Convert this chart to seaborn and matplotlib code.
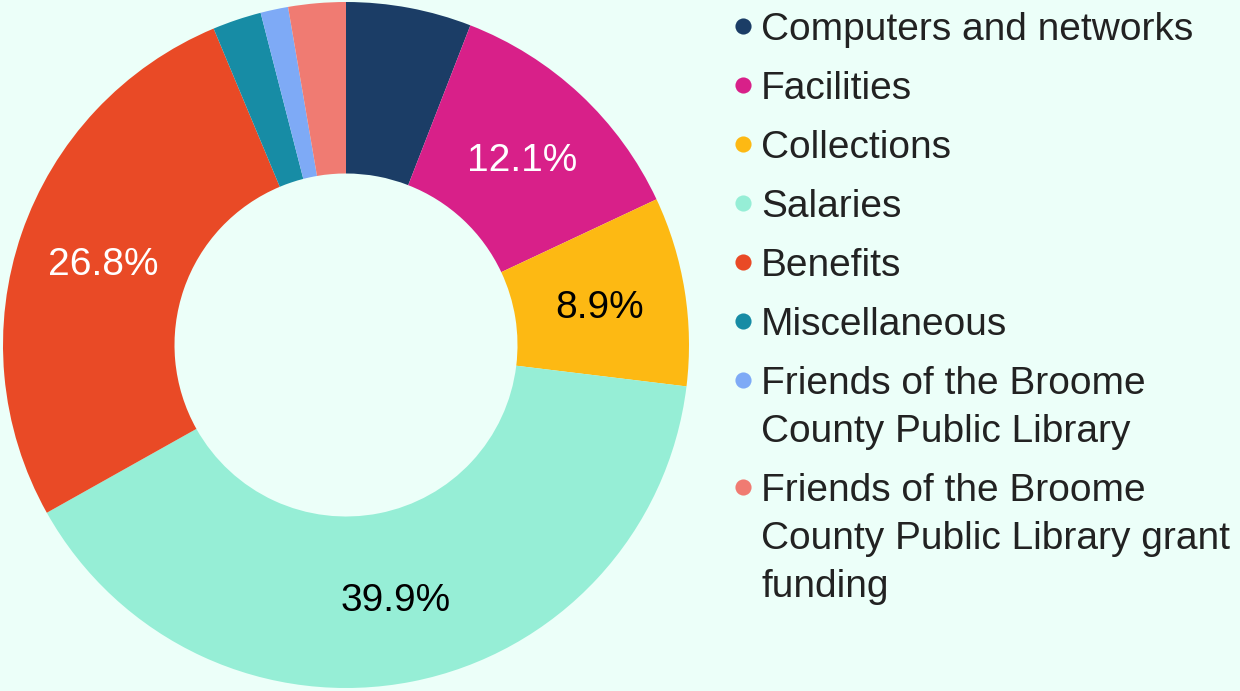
import matplotlib
matplotlib.use("Agg")
import matplotlib.pyplot as plt
import seaborn as sns

categories = [
    "Computers and networks",
    "Facilities",
    "Collections",
    "Salaries",
    "Benefits",
    "Miscellaneous",
    "Friends of the Broome\nCounty Public Library",
    "Friends of the Broome\nCounty Public Library grant\nfunding",
]
shares = [5.9, 12.1, 8.9, 39.9, 26.8, 2.3, 1.3, 2.7]
colors = ["#1b3d66", "#d82089", "#fdb913", "#96eed6",
          "#e94a26", "#178ca5", "#7eaaf6", "#f07b72"]
# only the bigger slices carry a label
shown = {"Facilities": "white", "Collections": "black",
         "Salaries": "black", "Benefits": "white"}

bg = "#ecfff9"
txt = "#222222"
sns.set_theme(style="white")
plt.rcParams["font.family"] = ["Liberation Sans", "DejaVu Sans"]

palette = sns.color_palette(colors)

W, H = 1240, 691
fig = plt.figure(figsize=(W / 100, H / 100), dpi=100)
fig.patch.set_facecolor(bg)

# donut axes: centre (346, 345) px, radius 343 px
ax = fig.add_axes([3 / W, 3 / H, 686 / W, 686 / H])
ax.set_facecolor(bg)

def fmt(p):
    return f"{p:.1f}%"

wedges, _, autotexts = ax.pie(
    shares,
    colors=palette,
    startangle=90,
    counterclock=False,
    radius=1,
    autopct=fmt,
    pctdistance=0.75,
    wedgeprops=dict(width=0.5, linewidth=0),
    textprops=dict(fontsize=28),
)
for cat, t in zip(categories, autotexts):
    if cat in shown:
        t.set_color(shown[cat])
        t.set_va("center_baseline")
    else:
        t.set_visible(False)

ax.set_xlim(-1, 1)
ax.set_ylim(-1, 1)
ax.axis("off")

# legend drawn by hand so the dot sits on the first line of each entry
lax = fig.add_axes([0, 0, 1, 1])
lax.set_xlim(0, W)
lax.set_ylim(H, 0)
lax.axis("off")
lax.patch.set_alpha(0)

y = 26
for cat, c in zip(categories, palette):
    lax.scatter([743], [y], s=135, color=c, linewidths=0)
    lines = cat.split("\n")
    for k, line in enumerate(lines):
        lax.text(761, y + 48 * k + 14, line, fontsize=28, color=txt,
                 ha="left", va="baseline")
    y += 59 + 48 * (len(lines) - 1)

fig.savefig("out.png", dpi=100, facecolor=bg)
